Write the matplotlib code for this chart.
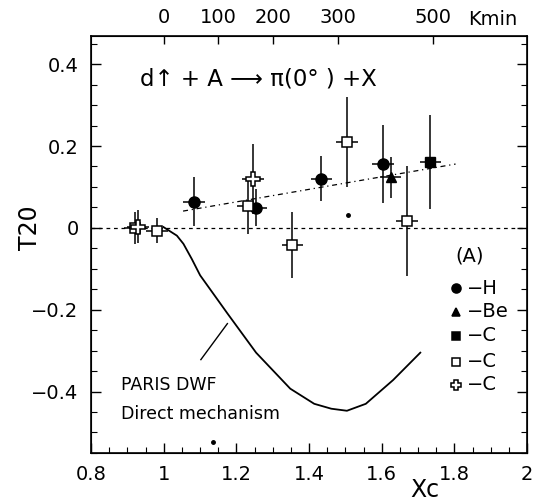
import matplotlib
matplotlib.use("Agg")
import matplotlib.pyplot as plt
from matplotlib.ticker import MultipleLocator

plt.rcParams['font.family'] = ['DejaVu Sans']

# data (Xc, T20, error)
h_x = [1.084, 1.255, 1.434, 1.603]
h_y = [0.064, 0.049, 0.120, 0.156]
h_err = [0.060, 0.045, 0.055, 0.095]

be_x = [1.624]
be_y = [0.124]
be_err = [0.050]

cfill_x = [1.734]
cfill_y = [0.161]
cfill_err = [0.115]

copen_x = [0.920, 0.982, 1.232, 1.354, 1.504, 1.670]
copen_y = [0.000, -0.007, 0.054, -0.042, 0.210, 0.017]
copen_err = [0.040, 0.030, 0.070, 0.080, 0.110, 0.135]

ccross_x = [0.930, 1.245]
ccross_y = [0.003, 0.120]
ccross_err = [0.040, 0.085]

x_err = 0.03

# linear fit line
fit_x = [1.053, 1.803]
fit_y = [0.041, 0.156]

# PARIS DWF curve
dwf_x = [0.999, 1.036, 1.054, 1.077, 1.100, 1.146, 1.175, 1.254, 1.348,
         1.414, 1.461, 1.504, 1.556, 1.631, 1.706]
dwf_y = [0.002, -0.019, -0.039, -0.076, -0.116, -0.173, -0.209, -0.305,
         -0.393, -0.430, -0.442, -0.447, -0.430, -0.372, -0.305]

# stray specks in the scan
dot_x = [1.507, 1.136]
dot_y = [0.032, -0.523]

# top axis (Kmin)
kmin_pos = [1.0, 1.15, 1.30, 1.48, 1.74]
kmin_labels = ['0', '100', '200', '300', '500']

legend_labels = ['\u2212H', '\u2212Be', '\u2212C', '\u2212C', '\u2212C']

fig = plt.figure(figsize=(5.33, 5.01), dpi=100)
ax = fig.add_axes([0.171, 0.096, 0.818, 0.833])

ax.set_xlim(0.8, 2.0)
ax.set_ylim(-0.55, 0.47)

ax.axhline(0, color='black', lw=0.9, ls=(0, (3, 3)), zorder=1)
ax.plot(fit_x, fit_y, color='black', lw=0.9, ls=(0, (4, 3, 1, 3)), zorder=1)
ax.plot(dwf_x, dwf_y, color='black', lw=1.3, zorder=2)

eb = dict(ecolor='black', elinewidth=1.1, capsize=0, ls='none', zorder=3)
ax.errorbar(h_x, h_y, yerr=h_err, xerr=x_err, fmt='o', ms=8,
            mfc='black', mec='black', **eb)
ax.errorbar(be_x, be_y, yerr=be_err, xerr=x_err, fmt='^', ms=7.5,
            mfc='black', mec='black', **eb)
ax.errorbar(cfill_x, cfill_y, yerr=cfill_err, xerr=x_err, fmt='s', ms=7.5,
            mfc='black', mec='black', **eb)
ax.errorbar(copen_x, copen_y, yerr=copen_err, xerr=x_err, fmt='s', ms=7.5,
            mfc='white', mec='black', mew=1.1, **eb)
ax.errorbar(ccross_x, ccross_y, yerr=ccross_err, xerr=x_err, fmt='P', ms=9.5,
            mfc='white', mec='black', mew=1.1, **eb)
ax.plot(dot_x, dot_y, 'o', color='black', ms=2.5, zorder=3)

# reaction label
ax.text(0.935, 0.363, 'd\u2191 + A \u27f6 \u03c0(0\u00b0 ) +X', fontsize=16.5,
        va='center', ha='left')

# curve annotation
ax.plot([1.175, 1.102], [-0.234, -0.322], color='black', lw=1.0)
ax.text(0.883, -0.384, 'PARIS DWF', fontsize=12.5, va='center', ha='left')
ax.text(0.883, -0.456, 'Direct mechanism', fontsize=12.5, va='center', ha='left')

# hand-made legend
ax.text(1.843, -0.068, '(A)', fontsize=14, va='center', ha='center')
leg_y = [-0.147, -0.205, -0.264, -0.327, -0.383]
leg_m = ['o', '^', 's', 's', 'P']
leg_fc = ['black', 'black', 'black', 'white', 'white']
leg_ms = [6.5, 6, 6, 6, 7.5]
for yy, m, fc, ms, lab in zip(leg_y, leg_m, leg_fc, leg_ms, legend_labels):
    ax.plot([1.803], [yy], marker=m, ms=ms, mfc=fc, mec='black', mew=1.1,
            ls='none')
    ax.text(1.833, yy, lab, fontsize=14, va='center', ha='left')

ax.xaxis.set_minor_locator(MultipleLocator(0.05))
ax.yaxis.set_minor_locator(MultipleLocator(0.05))
ax.set_xticks([0.8, 1.0, 1.2, 1.4, 1.6, 1.8, 2.0])
ax.set_xticklabels(['0.8', '1', '1.2', '1.4', '1.6', '1.8', '2'])
ax.set_yticks([-0.4, -0.2, 0, 0.2, 0.4])
ax.set_yticklabels(['\u22120.4', '\u22120.2', '0', '0.2', '0.4'])
ax.tick_params(which='both', direction='in', top=False, right=True,
               labelsize=14)
ax.tick_params(which='major', length=7, width=1, pad=9)
ax.tick_params(which='minor', length=4, width=0.8)
for sp in ax.spines.values():
    sp.set_linewidth(1.2)

ax.set_ylabel('T20', fontsize=17)
ax.yaxis.set_label_coords(-0.112, 0.54)
fig.text(0.797, 0.022, 'Xc', fontsize=17, ha='center', va='center')

top = ax.twiny()
top.set_xlim(ax.get_xlim())
top.set_xticks(kmin_pos)
top.set_xticklabels(kmin_labels)
top.tick_params(direction='in', length=6, width=1, labelsize=14, pad=6)
fig.text(0.925, 0.962, 'Kmin', fontsize=14, ha='center', va='center')

fig.savefig('out.png', dpi=100)
